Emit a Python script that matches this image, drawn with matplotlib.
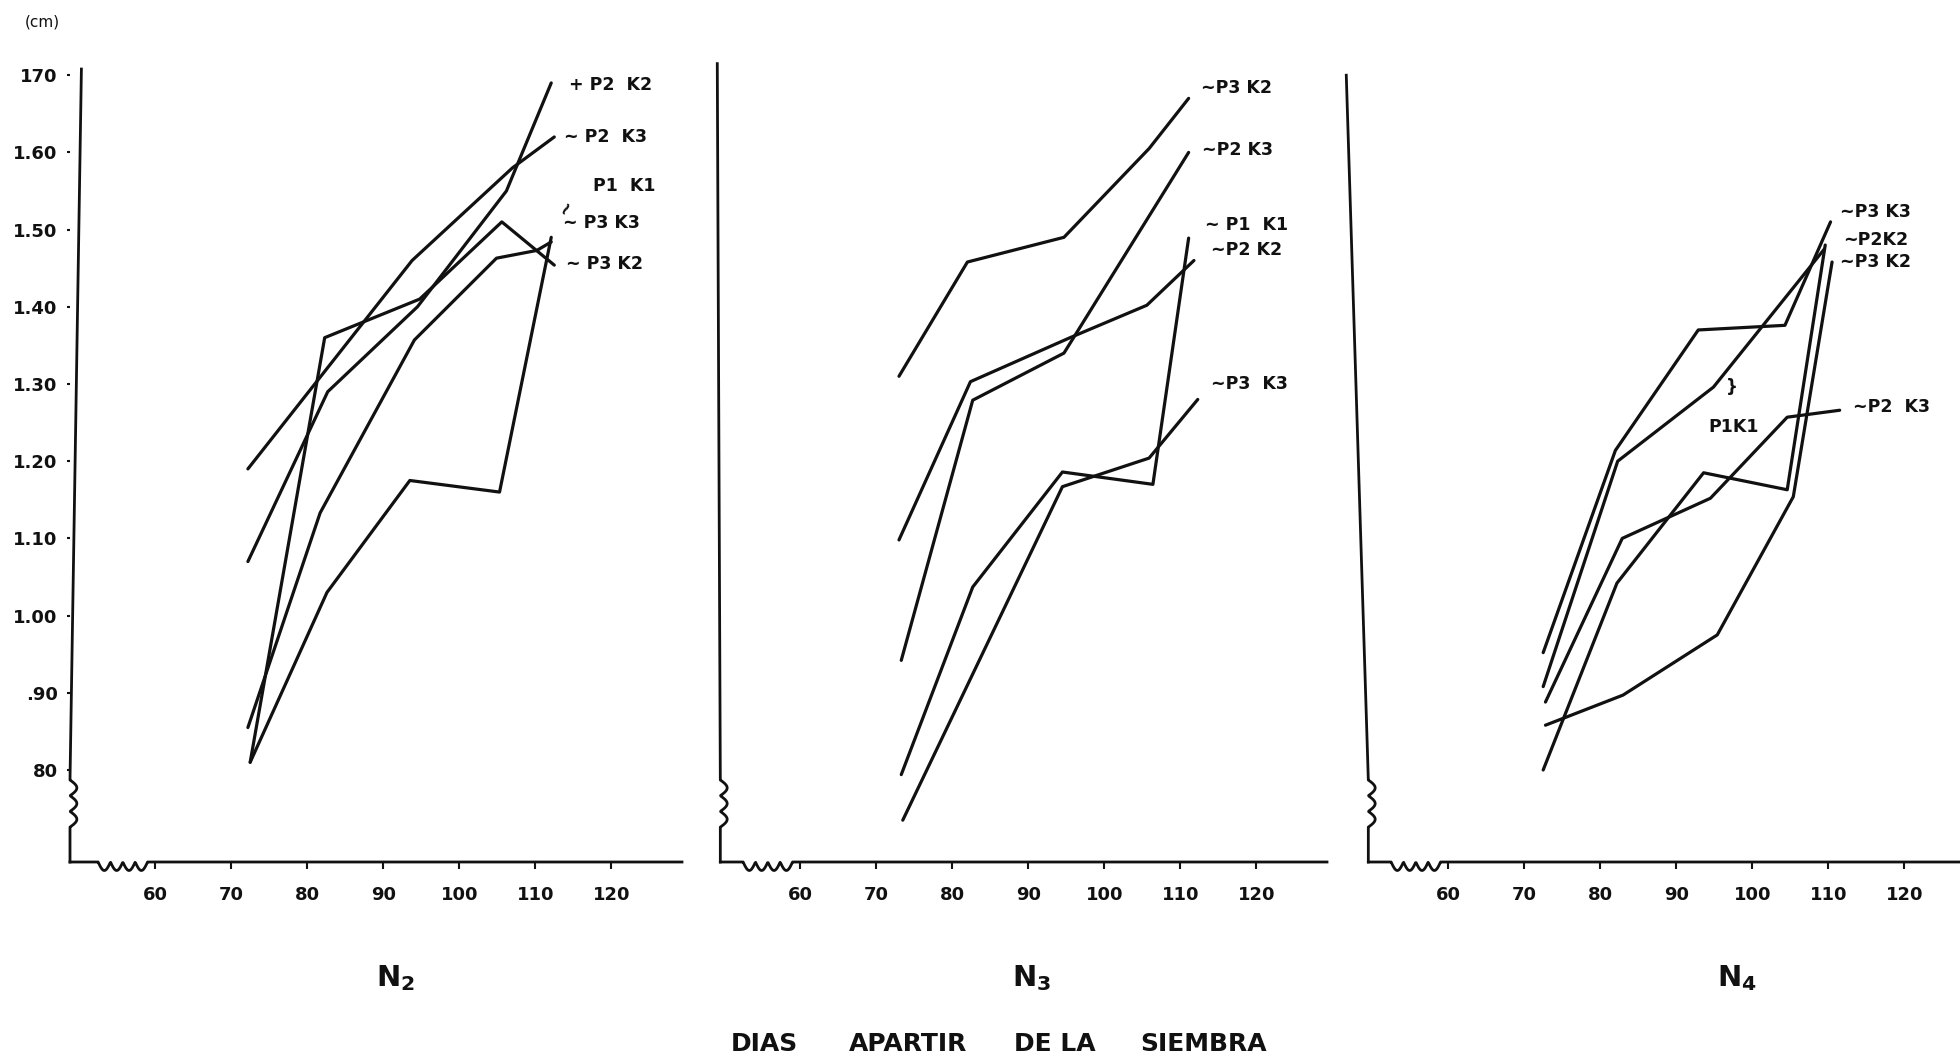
import numpy as np
import matplotlib
matplotlib.use("Agg")
import matplotlib.pyplot as plt

# days after sowing / plant height
n2_p2k2_x = [72.2, 82.7, 94.5, 106.2, 112.1]
n2_p2k2_y = [1.07, 1.29, 1.40, 1.55, 1.69]
n2_p2k3_x = [72.2, 93.8, 107.0, 112.5]
n2_p2k3_y = [1.19, 1.46, 1.58, 1.62]
n2_p1k1_x = [72.5, 82.6, 93.5, 105.3, 112.1]
n2_p1k1_y = [0.81, 1.03, 1.175, 1.16, 1.49]
n2_p3k3_x = [72.2, 81.7, 94.1, 104.9, 110.2, 112.1]
n2_p3k3_y = [0.855, 1.133, 1.357, 1.463, 1.473, 1.484]
n2_p3k2_x = [72.5, 82.3, 94.8, 105.6, 112.5]
n2_p3k2_y = [0.81, 1.36, 1.41, 1.51, 1.454]

n3_p3k2_x = [73.0, 82.0, 94.7, 105.9, 111.1]
n3_p3k2_y = [1.31, 1.458, 1.49, 1.605, 1.67]
n3_p2k3_x = [73.3, 82.7, 94.7, 111.1]
n3_p2k3_y = [0.942, 1.279, 1.34, 1.60]
n3_p1k1_x = [73.3, 82.7, 94.5, 106.4, 111.1]
n3_p1k1_y = [0.794, 1.037, 1.186, 1.17, 1.489]
n3_p2k2_x = [73.0, 82.4, 95.5, 105.6, 111.8]
n3_p2k2_y = [1.098, 1.303, 1.36, 1.402, 1.46]
n3_p3k3_x = [73.5, 94.5, 105.9, 112.3]
n3_p3k3_y = [0.735, 1.167, 1.204, 1.28]

n4_p3k3_x = [72.5, 82.0, 92.9, 104.3, 110.3]
n4_p3k3_y = [0.952, 1.214, 1.37, 1.376, 1.51]
n4_p1k1_x = [72.5, 82.3, 94.9, 109.5]
n4_p1k1_y = [0.908, 1.20, 1.296, 1.475]
n4_p2k2_x = [72.5, 82.2, 93.6, 104.6, 109.6]
n4_p2k2_y = [0.80, 1.042, 1.185, 1.163, 1.48]
n4_p3k2_x = [72.8, 83.0, 95.4, 105.4, 110.5]
n4_p3k2_y = [0.858, 0.897, 0.975, 1.154, 1.458]
n4_p2k3_x = [72.8, 82.9, 94.5, 104.6, 111.5]
n4_p2k3_y = [0.888, 1.10, 1.152, 1.257, 1.266]

# line labels: text, day, height
n2_labels = [("+ P2  K2", 114.4, 1.687), ("~ P2  K3", 113.8, 1.62),
             ("P1  K1", 117.6, 1.556), ("~ P3 K3", 113.6, 1.509),
             ("~ P3 K2", 114.1, 1.455)]
n3_labels = [("~P3 K2", 112.7, 1.683), ("~P2 K3", 112.9, 1.603),
             ("~ P1  K1", 113.2, 1.506), ("~P2 K2", 114.1, 1.474),
             ("~P3  K3", 114.1, 1.30)]
n4_labels = [("~P3 K3", 111.6, 1.523), ("~P2K2", 112.0, 1.487),
             ("~P3 K2", 111.6, 1.458), ("~P2  K3", 113.2, 1.27),
             ("P1K1", 94.2, 1.244)]

x_ticks = [60, 70, 80, 90, 100, 110, 120]
y_ticks = [0.8, 0.9, 1.0, 1.1, 1.2, 1.3, 1.4, 1.5, 1.6, 1.7]
y_ticklabels = ["80", ".90", "1.00", "1.10", "1.20", "1.30", "1.40", "1.50", "1.60", "170"]

title_words = ["DIAS", "APARTIR", "DE LA", "SIEMBRA"]
title_x_px = [764, 908, 1055, 1204]

XMIN, XMAX = 48.8, 129.3
YMIN, YMAX = 0.6808, 1.7197
INK = "#111111"

fig = plt.figure(figsize=(19.6, 10.6), dpi=100)


def axis_lines(ax, bot_x, top_x, top_y, x_end):
    # y axis with a break wiggle near the bottom
    t = np.linspace(0, 1, 80)
    wy = 0.726 + t * 0.061
    wx = bot_x + 0.9 * np.abs(np.sin(3 * np.pi * t))
    xs = np.concatenate([[bot_x, bot_x], wx, [bot_x, top_x]])
    ys = np.concatenate([[YMIN, 0.726], wy, [0.787, top_y]])
    ax.plot(xs, ys, color=INK, lw=2.0, clip_on=False)
    # x axis with a break wiggle near day 55
    bx = 52.5 + t * 6.5
    by = YMIN - 0.011 * np.abs(np.sin(4 * np.pi * t))
    xs = np.concatenate([[bot_x, 52.5], bx, [59.0, x_end]])
    ys = np.concatenate([[YMIN, YMIN], by, [YMIN, YMIN]])
    ax.plot(xs, ys, color=INK, lw=2.0, clip_on=False)


def panel(left_px, series, labels, bot_x, top_x, top_y, x_end, ylabels):
    ax = fig.add_axes([left_px / 1960, 198 / 1060, 612 / 1960, 802 / 1060])
    ax.set_xlim(XMIN, XMAX)
    ax.set_ylim(YMIN, YMAX)
    for s in ax.spines.values():
        s.set_visible(False)
    ax.patch.set_alpha(0)
    for xs, ys in series:
        ax.plot(xs, ys, color=INK, lw=2.3, solid_joinstyle="round",
                solid_capstyle="round", clip_on=False)
    for txt, x, y in labels:
        ax.text(x, y, txt, fontsize=12.5, fontweight="bold", color=INK,
                ha="left", va="center", clip_on=False)
    axis_lines(ax, bot_x, top_x, top_y, x_end)
    ax.set_xticks(x_ticks)
    ax.set_xticklabels([str(v) for v in x_ticks], fontsize=13, fontweight="bold", color=INK)
    ax.tick_params(axis="x", length=5, width=1.5, pad=12, color=INK)
    if ylabels:
        ax.set_yticks(y_ticks)
        ax.set_yticklabels(y_ticklabels, fontsize=13, fontweight="bold", color=INK)
        ax.tick_params(axis="y", length=2, width=1.5, pad=7, color=INK)
    else:
        ax.set_yticks([])
    return ax


ax2 = panel(70,
            [(n2_p2k2_x, n2_p2k2_y), (n2_p2k3_x, n2_p2k3_y), (n2_p1k1_x, n2_p1k1_y),
             (n2_p3k3_x, n2_p3k3_y), (n2_p3k2_x, n2_p3k2_y)],
            n2_labels, 48.8, 50.3, 1.708, XMAX, True)
ax2.text(114.0, 1.528, "~", fontsize=13, fontweight="bold", color=INK,
         rotation=60, ha="center", va="center")
ax3 = panel(715,
            [(n3_p3k2_x, n3_p3k2_y), (n3_p2k3_x, n3_p2k3_y), (n3_p1k1_x, n3_p1k1_y),
             (n3_p2k2_x, n3_p2k2_y), (n3_p3k3_x, n3_p3k3_y)],
            n3_labels, 49.5, 49.1, 1.715, XMAX, False)
ax4 = panel(1363,
            [(n4_p3k3_x, n4_p3k3_y), (n4_p1k1_x, n4_p1k1_y), (n4_p2k2_x, n4_p2k2_y),
             (n4_p3k2_x, n4_p3k2_y), (n4_p2k3_x, n4_p2k3_y)],
            n4_labels, 49.5, 46.6, 1.70, 134.0, False)
ax4.text(97.3, 1.296, "}", fontsize=12, fontweight="bold", color=INK,
         ha="center", va="center")

fig.text(25 / 1960, 1 - 22 / 1060, "(cm)", fontsize=11, color=INK, va="center")
for xpx, sub in [(396, "2"), (1032, "3"), (1737, "4")]:
    fig.text(xpx / 1960, 1 - 978 / 1060, r"$\mathbf{N_%s}$" % sub, fontsize=21,
             color=INK, ha="center", va="center")
for word, xpx in zip(title_words, title_x_px):
    fig.text(xpx / 1960, 1 - 1044 / 1060, word, fontsize=18, fontweight="bold",
             color=INK, ha="center", va="center")

fig.savefig("out.png", dpi=100, facecolor="white")
